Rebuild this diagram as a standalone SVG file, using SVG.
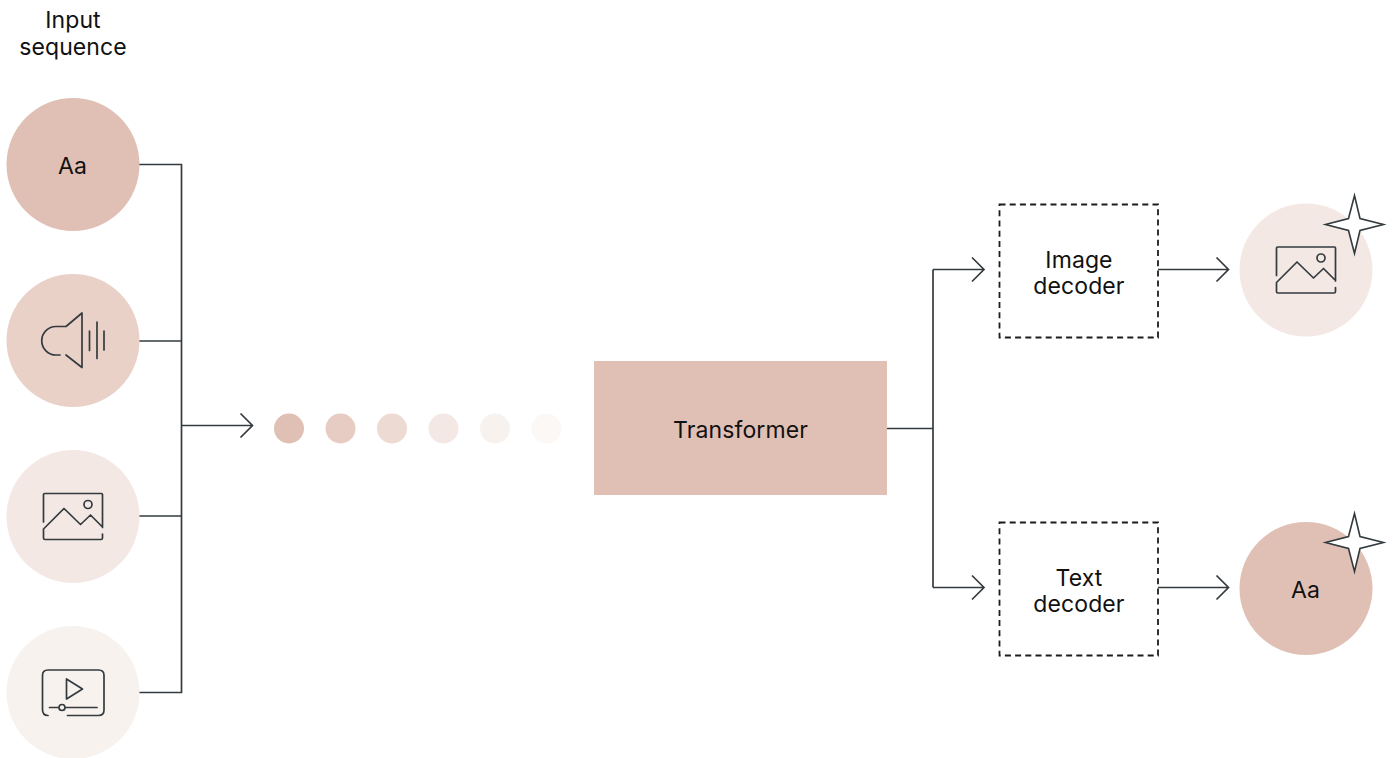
<svg xmlns="http://www.w3.org/2000/svg" width="1394" height="758" viewBox="0 0 1394 758">
<style>
text{font-family:"Inter","Liberation Sans",sans-serif;font-size:23px;fill:#111;text-anchor:middle;letter-spacing:.1px}
.l{fill:none;stroke:#343b3f;stroke-width:1.7;stroke-linejoin:miter}
.i{fill:none;stroke:#343b3f;stroke-width:1.7;stroke-linecap:round;stroke-linejoin:round}
.s{fill:#fff;stroke:#343b3f;stroke-width:1.6;stroke-linejoin:miter;stroke-miterlimit:20}
.d{fill:#fff;stroke:#1c1c1c;stroke-width:1.8;stroke-dasharray:6 4.2}
</style>
<defs>
<path id="star" class="s" d="M30.500 1.500L36 24.500L59.500 30.500L36 36.500L30.500 59.500L24.500 36.500L1.500 30.500L24.500 24.500Z"/>
</defs>
<g id="connectors">
<path class="l" d="M139 164.500H181.500V692.500H139M139 341H181.500M139 516H181.500M181.500 425.500H251.500M240.500 413.500L252.500 425.500L240.500 437.500"/>
<path class="l" d="M887 428.500H933M933 269.500V587.500M933 269.500H983.500M972 257.500L984 269.500L972 281.500M933 587.500H983.500M972 575.500L984 587.500L972 599.500"/>
<path class="l" d="M1158 269.500H1228M1216.500 257.500L1228.500 269.500L1216.500 281.500M1158 587.500H1228M1216.500 575.500L1228.500 587.500L1216.500 599.500"/>
</g>
<g id="input-label"><text x="73" y="28">Input</text><text x="73" y="55">sequence</text></g>
<g id="input-text"><circle cx="73" cy="164.500" r="66.500" fill="#e0c0b5"/><text x="72.500" y="173.500">Aa</text></g>
<g id="input-audio"><circle cx="73" cy="340.500" r="66.500" fill="#e9d1c8"/>
<path class="i" d="M82 313L66 326.500H56A14.200 14.200 0 0 0 56 355H60M66 355L82 367.500V313M89.500 331V350.500M97 322V358.500M104 331V350"/></g>
<g id="input-image"><circle cx="73" cy="516.500" r="66.500" fill="#f3e8e4"/>
<path class="i" d="M43.500 522V494.500Q43.500 493.500 44.500 493.500H101.500Q102.500 493.500 102.500 494.500V527.500M43.500 529L64 508.500L80.500 524.500L90.500 515L102.500 527M43.500 529V538Q43.500 539.500 45 539.500H101Q102.500 539.500 102.500 538V534"/><circle class="i" cx="88" cy="504.500" r="4"/></g>
<g id="input-video"><circle cx="73" cy="692.500" r="66.500" fill="#f7f2ee"/>
<path class="i" d="M48 715.500Q42.500 715.500 42.500 709.500V675.500Q42.500 670 48 670H98.500Q104 670 104 675.500V710Q104 715.500 98.500 715.500H67.500M66.500 679V699L82.500 689ZM49.500 707.500H58M66 707.500H97"/><circle class="i" cx="62" cy="707.500" r="3"/></g>
<g id="sequence-dots"><circle cx="289" cy="428.500" r="15" fill="#e0c0b5"/><circle cx="340.500" cy="428.500" r="15" fill="#e7ccc3"/><circle cx="392" cy="428.500" r="15" fill="#ecdad3"/><circle cx="443.500" cy="428.500" r="15" fill="#f3e8e4"/><circle cx="495" cy="428.500" r="15" fill="#f7f2ee"/><circle cx="546.500" cy="428.500" r="15" fill="#fbf8f6"/></g>
<g id="transformer"><rect x="594" y="361" width="293" height="134" fill="#e0c0b5"/><text x="740.500" y="438">Transformer</text></g>
<g id="image-decoder"><rect class="d" x="999.500" y="204.500" width="158.500" height="133"/><text x="1079" y="267.500">Image</text><text x="1079" y="294">decoder</text></g>
<g id="text-decoder"><rect class="d" x="999.500" y="522.500" width="158.500" height="133"/><text x="1079" y="585.500">Text</text><text x="1079" y="612">decoder</text></g>
<g id="output-image"><circle cx="1306" cy="270" r="66.500" fill="#f3e8e4"/>
<path class="i" d="M1276.500 275.500V248Q1276.500 247 1277.500 247H1334.500Q1335.500 247 1335.500 248V281M1276.500 282.500L1297 262L1313.500 278L1323.500 268.500L1335.500 280.500M1276.500 282.500V291.500Q1276.500 293 1278 293H1334Q1335.500 293 1335.500 291.500V287.500"/><circle class="i" cx="1321" cy="258" r="4"/>
<use href="#star" x="1324" y="194"/></g>
<g id="output-text"><circle cx="1306" cy="588.500" r="66.500" fill="#e0c0b5"/><text x="1305.500" y="598">Aa</text>
<use href="#star" x="1324" y="512"/></g>
</svg>
